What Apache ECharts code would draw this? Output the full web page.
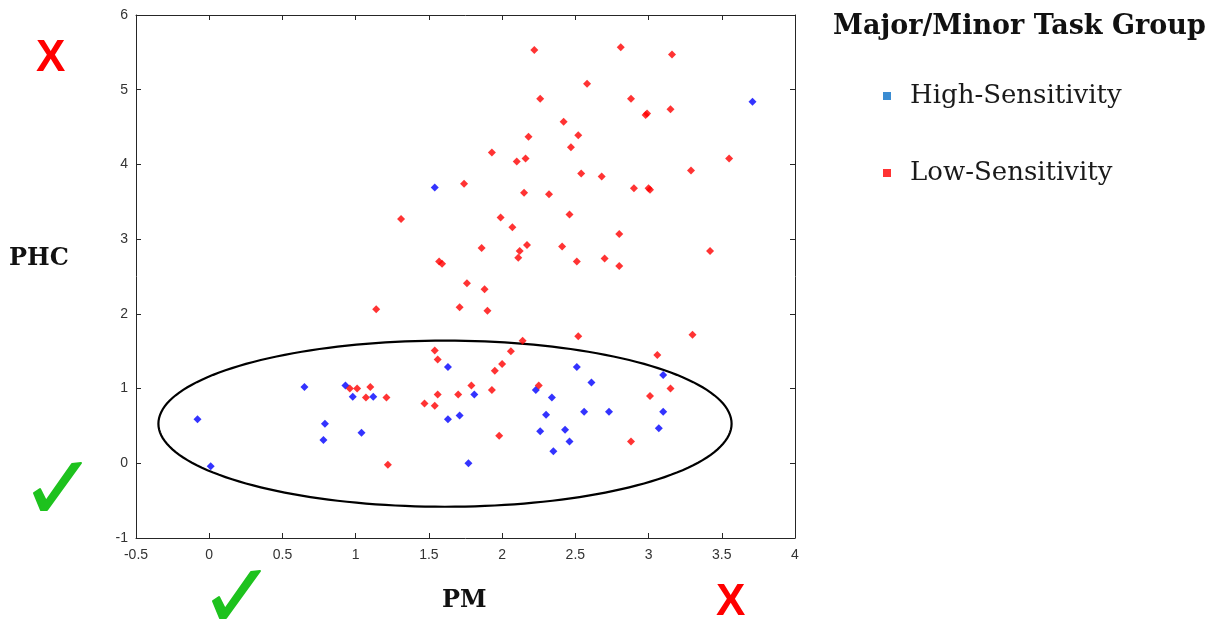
<!DOCTYPE html>
<html>
<head>
<meta charset="utf-8">
<script src="https://cdn.jsdelivr.net/npm/echarts@6/dist/echarts.min.js"></script>
<style>html,body{margin:0;padding:0;background:#fff;}#c{width:1214px;height:620px;}</style>
</head>
<body>
<div id="c"></div>
<script>
// ---- data ----
var seriesNames = ['High-Sensitivity', 'Low-Sensitivity'];
var highX = [1.54, 3.71, 1.63, 0.65, 0.93, 0.98, 1.12, 1.63, 1.71, -0.08, 0.79, 0.78, 1.04, 0.01, 1.77, 1.81, 2.51, 2.61, 3.10, 2.23, 2.34, 2.30, 2.56, 2.73, 3.10, 2.26, 2.43, 2.46, 3.07, 2.35];
var highY = [3.69, 4.84, 1.29, 1.02, 1.04, 0.89, 0.89, 0.59, 0.64, 0.59, 0.53, 0.31, 0.41, -0.04, 0.00, 0.92, 1.29, 1.08, 1.18, 0.98, 0.88, 0.65, 0.69, 0.69, 0.69, 0.43, 0.45, 0.29, 0.47, 0.16];
var lowX = [1.74, 1.31, 1.57, 1.59, 2.22, 2.81, 3.16, 2.58, 2.26, 2.88, 2.98, 2.99, 3.15, 2.42, 2.18, 2.52, 2.47, 1.93, 2.10, 2.16, 3.55, 3.29, 2.54, 2.68, 2.15, 2.32, 2.90, 3.00, 3.01, 1.99, 2.07, 2.46, 1.86, 2.12, 2.11, 2.17, 2.41, 2.80, 2.51, 2.70, 2.80, 3.42, 1.76, 1.14, 1.71, 1.88, 1.90, 2.14, 2.52, 3.30, 2.06, 2.00, 1.95, 3.06, 1.54, 1.56, 0.96, 1.01, 1.10, 1.07, 1.21, 1.56, 1.70, 1.47, 1.54, 1.22, 1.79, 1.93, 2.25, 3.15, 3.01, 1.98, 2.88];
var lowY = [3.74, 3.27, 2.70, 2.67, 5.53, 5.57, 5.47, 5.08, 4.88, 4.88, 4.66, 4.68, 4.74, 4.57, 4.37, 4.39, 4.23, 4.16, 4.04, 4.08, 4.08, 3.92, 3.88, 3.84, 3.62, 3.60, 3.68, 3.68, 3.66, 3.29, 3.16, 3.33, 2.88, 2.84, 2.75, 2.92, 2.90, 3.07, 2.70, 2.74, 2.64, 2.84, 2.41, 2.06, 2.09, 2.33, 2.04, 1.64, 1.70, 1.72, 1.50, 1.33, 1.24, 1.45, 1.51, 1.39, 1.00, 1.00, 1.02, 0.88, 0.88, 0.92, 0.92, 0.80, 0.77, -0.02, 1.04, 0.98, 1.04, 1.00, 0.90, 0.37, 0.29];
// ellipse annotation: center x, center y, radius x, radius y (data units)
var ellipse = [1.61, 0.53, 1.957, 1.112];
var xTicks = {min: -0.5, max: 4, interval: 0.5};
var yTicks = {min: -1, max: 6, interval: 1};

function pairs(xs, ys) { return xs.map(function (x, i) { return [x, ys[i]]; }); }

var axisColor = '#262626';
var chart = echarts.init(document.getElementById('c'), null, {renderer: 'canvas'});
var serif = '"DejaVu Serif", serif';
// check-mark icon outline (local icon geometry)
var checkShape = [[14, 43], [20, 39], [26, 51], [52, 14], [61, 13], [27, 60], [21, 60]];
function checkIcon(x, y) {
  return {type: 'polygon', x: x, y: y, shape: {points: checkShape},
    style: {fill: '#1ec21e', stroke: '#1ec21e', lineWidth: 2, lineJoin: 'round'}};
}

chart.setOption({
  animation: false,
  backgroundColor: '#fff',
  grid: {left: 136, right: 419, top: 15, bottom: 82, containLabel: false},
  legend: {
    orient: 'vertical', left: 878, top: 75, itemGap: 45,
    itemWidth: 8, itemHeight: 8, selectedMode: false,
    textStyle: {fontFamily: serif, fontSize: 26, color: '#1a1a1a', lineHeight: 32, padding: [0, 0, 0, 14]},
    data: [
      {name: seriesNames[0], icon: 'rect', itemStyle: {color: '#0a6fc7'}},
      {name: seriesNames[1], icon: 'rect', itemStyle: {color: '#ff0000'}}
    ]
  },
  xAxis: [{
    type: 'value', min: xTicks.min, max: xTicks.max, interval: xTicks.interval,
    axisLine: {show: true, onZero: false, lineStyle: {color: axisColor, width: 1}},
    axisTick: {show: true, inside: true, length: 5, lineStyle: {color: axisColor}},
    axisLabel: {color: '#333', fontFamily: 'Liberation Sans, Arial', fontSize: 14, margin: 10},
    splitLine: {show: false}
  }, {
    type: 'value', position: 'top', min: xTicks.min, max: xTicks.max, interval: xTicks.interval,
    axisLine: {show: true, onZero: false, lineStyle: {color: axisColor, width: 1}},
    axisTick: {show: true, inside: true, length: 5, lineStyle: {color: axisColor}},
    axisLabel: {show: false}, splitLine: {show: false}
  }],
  yAxis: [{
    type: 'value', min: yTicks.min, max: yTicks.max, interval: yTicks.interval,
    axisLine: {show: true, onZero: false, lineStyle: {color: axisColor, width: 1}},
    axisTick: {show: true, inside: true, length: 5, lineStyle: {color: axisColor}},
    axisLabel: {color: '#333', fontFamily: 'Liberation Sans, Arial', fontSize: 14, margin: 8},
    splitLine: {show: false}
  }, {
    type: 'value', position: 'right', min: yTicks.min, max: yTicks.max, interval: yTicks.interval,
    axisLine: {show: true, onZero: false, lineStyle: {color: axisColor, width: 1}},
    axisTick: {show: true, inside: true, length: 5, lineStyle: {color: axisColor}},
    axisLabel: {show: false}, splitLine: {show: false}
  }],
  series: [{
    name: 'ellipse', type: 'custom', silent: true, clip: false, z: 1,
    encode: {x: 0, y: 1},
    data: [ellipse],
    renderItem: function (params, api) {
      var c = api.coord([api.value(0), api.value(1)]);
      var s = api.size([api.value(2), api.value(3)]);
      var pts = [];
      var n = 180;
      for (var i = 0; i < n; i++) {
        var t = i / n * Math.PI * 2;
        pts.push([c[0] + s[0] * Math.cos(t), c[1] + s[1] * Math.sin(t)]);
      }
      return {type: 'polygon', shape: {points: pts}, style: {fill: null, stroke: '#000', lineWidth: 2.2}};
    }
  }, {
    name: seriesNames[0], type: 'scatter', symbol: 'diamond', symbolSize: 8, z: 3,
    itemStyle: {color: '#0000ff'},
    data: pairs(highX, highY)
  }, {
    name: seriesNames[1], type: 'scatter', symbol: 'diamond', symbolSize: 8, z: 3,
    itemStyle: {color: '#ff0000'},
    data: pairs(lowX, lowY)
  }],
  graphic: [
    {type: 'text', left: 833, top: 13, style: {text: 'Major/Minor Task Group', font: 'bold 27px "DejaVu Serif", serif', fill: '#111'}},
    {type: 'text', left: 9, top: 247, style: {text: 'PHC', font: 'bold 24px "DejaVu Serif", serif', fill: '#111'}},
    {type: 'text', left: 442, top: 589, style: {text: 'PM', font: 'bold 24px "DejaVu Serif", serif', fill: '#111'}},
    {type: 'text', left: 36, top: 37, style: {text: 'X', font: 'bold 44px "Liberation Sans", Arial, sans-serif', fill: '#ff0000'}},
    {type: 'text', left: 716, top: 581, style: {text: 'X', font: 'bold 44px "Liberation Sans", Arial, sans-serif', fill: '#ff0000'}},
    checkIcon(20, 450),
    checkIcon(199, 558)
  ]
});
</script>
</body>
</html>
